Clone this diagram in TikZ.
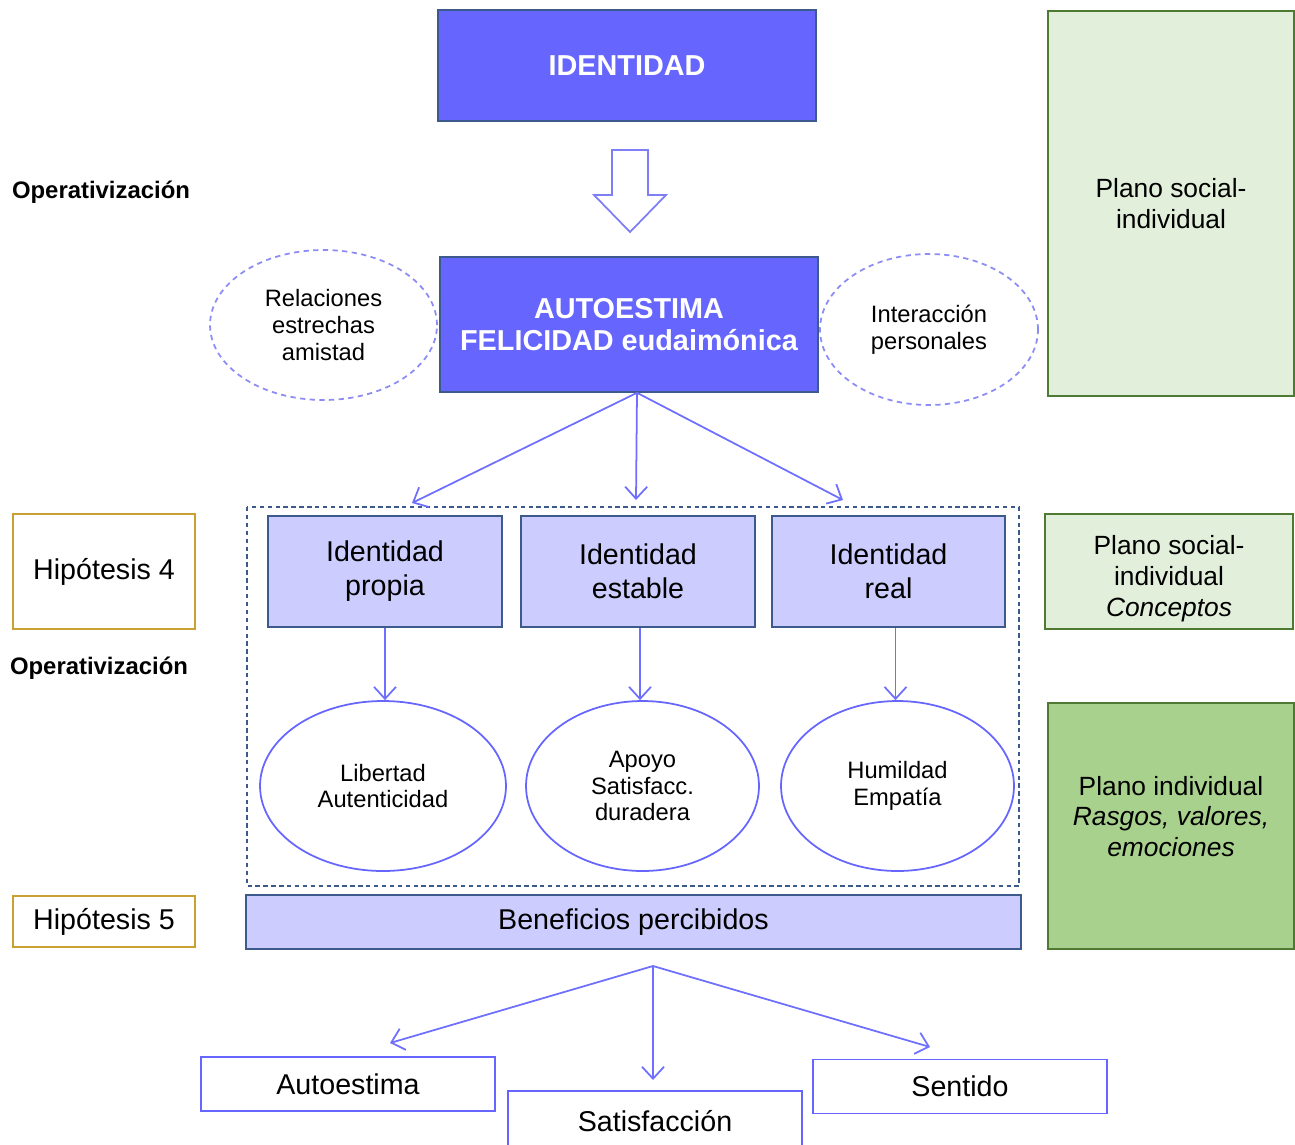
\documentclass[tikz,border=0pt]{standalone}
\usepackage{fontspec}
\setmainfont{Liberation Sans}
\usepackage{tikz}
\usetikzlibrary{positioning,arrows.meta,shapes}
\usepackage{xcolor}
\definecolor{fuerte}{HTML}{6666FF}
\definecolor{suave}{HTML}{CCCCFF}
\definecolor{borde}{HTML}{3D5A8C}
\definecolor{azulflecha}{HTML}{6F6FFF}
\definecolor{punteado}{HTML}{8C8CF5}
\definecolor{oro}{HTML}{C9A032}
\definecolor{verdeclaro}{HTML}{E2EFDA}
\definecolor{verdemedio}{HTML}{A9D18E}
\definecolor{verdeborde}{HTML}{4E7A33}

\begin{document}
\begin{tikzpicture}[x=0.02cm, y=-0.02cm,
        fuerte/.style={draw=borde, line width=0.9pt, fill=fuerte, text=white, align=center, font=\bfseries\fontsize{16.4}{18.7}\selectfont},
        suave/.style={draw=borde, line width=0.9pt, fill=suave, align=center, font=\fontsize{16.3}{19.3}\selectfont},
        circulo/.style={ellipse, draw=fuerte, line width=1pt, inner sep=0pt, align=center, font=\fontsize{13.5}{15.3}\selectfont},
        nube/.style={ellipse, draw=punteado, line width=1pt, dash pattern=on 3pt off 2.5pt, inner sep=0pt, align=center, font=\fontsize{13.5}{15.3}\selectfont},
        hipo/.style={draw=oro, line width=1pt, font=\fontsize{16.3}{19}\selectfont},
        plano/.style={draw=verdeborde, line width=1pt, align=center, font=\fontsize{15}{17.6}\selectfont},
        planotexto/.style={align=center, font=\fontsize{15}{17.6}\selectfont},
        salida/.style={draw=fuerte, line width=1pt, minimum width=5.88cm, minimum height=1.08cm, font=\fontsize{16.3}{19}\selectfont},
        opera/.style={font=\bfseries\fontsize{13.6}{16}\selectfont},
        flecha/.style={draw=azulflecha, line width=1pt, -{Straight Barb[length=2.4mm,width=4.4mm]}}]
        \useasboundingbox (0,0) rectangle (1295,1144);

        % Identidad and block arrow
        \node[fuerte, minimum width=7.56cm, minimum height=2.22cm] (identidad) at (627,65.5) {IDENTIDAD};
        \draw[draw=punteado!90!blue, line width=1pt, fill=white] (612,150) -- (648,150) -- (648,195) -- (666,195) -- (630,232) -- (594,195) -- (612,195) -- cycle;

        % Autoestima and side ellipses
        \node[fuerte, minimum width=7.56cm, minimum height=2.7cm] (autoestima) at (629,324.5) {AUTOESTIMA\\FELICIDAD eudaimónica};
        \node[nube, minimum width=4.54cm, minimum height=3cm] (relaciones) at (323.5,325) {Relaciones\\estrechas\\amistad};
        \node[nube, minimum width=4.36cm, minimum height=3.02cm] (interaccion) at (929,329.5) {Interacción\\personales};

        % Left labels
        \node[opera] (opera1) at (101,192) {Operativización};
        \node[hipo, minimum width=3.64cm, minimum height=2.3cm] (hipo4) at (104,571.5) {Hipótesis 4};
        \node[opera] (opera2) at (99,668) {Operativización};
        \node[hipo, minimum width=3.64cm, minimum height=1.02cm] (hipo5) at (104,921.5) {Hipótesis 5};

        % Right planes
        \node[plano, fill=verdeclaro, minimum width=4.92cm, minimum height=7.7cm] (plano1) at (1171,203.5) {Plano social-\\individual};
        \node[plano, fill=verdeclaro, minimum width=4.96cm, minimum height=2.3cm] (plano2) at (1169,571.5) {};
        \node[planotexto] (plano2texto) at ([yshift=-0.14cm]plano2.center) {Plano social-\\individual\\\textit{Conceptos}};
        \node[plano, fill=verdemedio, minimum width=4.92cm, minimum height=4.92cm] (plano3) at (1171,826) {};
        \node[planotexto] (plano3texto) at ([yshift=0.19cm]plano3.center) {Plano individual\\\textit{Rasgos, valores,}\\\textit{emociones}};

        % Dashed frame
        \draw[draw=borde, line width=0.8pt, dash pattern=on 2.5pt off 2pt] (247,507) rectangle (1019,886);

        % Identity boxes
        \node[suave, minimum width=4.68cm, minimum height=2.22cm] (propia) at (385,571.5) {Identidad\\propia};
        \node[suave, minimum width=4.68cm, minimum height=2.22cm] (estable) at (638,571.5) {Identidad\\estable};
        \node[suave, minimum width=4.66cm, minimum height=2.22cm] (real) at (888.5,571.5) {Identidad\\real};

        % Circles
        \node[circulo, minimum width=4.92cm, minimum height=3.4cm] (libertad) at (383,786) {Libertad\\Autenticidad};
        \node[circulo, minimum width=4.66cm, minimum height=3.4cm] (apoyo) at (642.5,786) {Apoyo\\Satisfacc.\\duradera};
        \node[circulo, minimum width=4.66cm, minimum height=3.4cm] (humildad) at (897.5,786) {Humildad\\Empatía};

        % Benefits
        \node[suave, minimum width=15.5cm, minimum height=1.08cm] (beneficios) at (633.5,922) {Beneficios percibidos};

        % Outcomes
        \node[salida] (autoestima2) at (348,1084) {Autoestima};
        \node[salida, minimum height=1.2cm] (satisfaccion) at (655,1121) {Satisfacción};
        \node[salida] (sentido) at (960,1086.5) {Sentido};

        % Arrows
        \coordinate (llegada1) at (412,503);
        \coordinate (llegada2) at (636,500);
        \coordinate (llegada3) at (843,500);
        \draw[flecha] ([xshift=0.16cm]autoestima.south) -- (llegada1);
        \draw[flecha] ([xshift=0.16cm]autoestima.south) -- (llegada2);
        \draw[flecha] ([xshift=0.16cm]autoestima.south) -- (llegada3);
        \draw[flecha] (propia.south) -- (propia.south |- libertad.north);
        \draw[flecha] ([xshift=0.04cm]estable.south) -- ([xshift=0.04cm]estable.south |- apoyo.north);
        \draw[flecha] ([xshift=0.14cm]real.south) -- ([xshift=0.14cm]real.south |- humildad.north);

        \coordinate (reparto) at (653,966);
        \coordinate (fin1) at (390,1043);
        \coordinate (fin2) at (653,1080);
        \coordinate (fin3) at (930,1047);
        \draw[flecha] (reparto) -- (fin1);
        \draw[flecha] (reparto) -- (fin2);
        \draw[flecha] (reparto) -- (fin3);
    \end{tikzpicture}
\end{document}
